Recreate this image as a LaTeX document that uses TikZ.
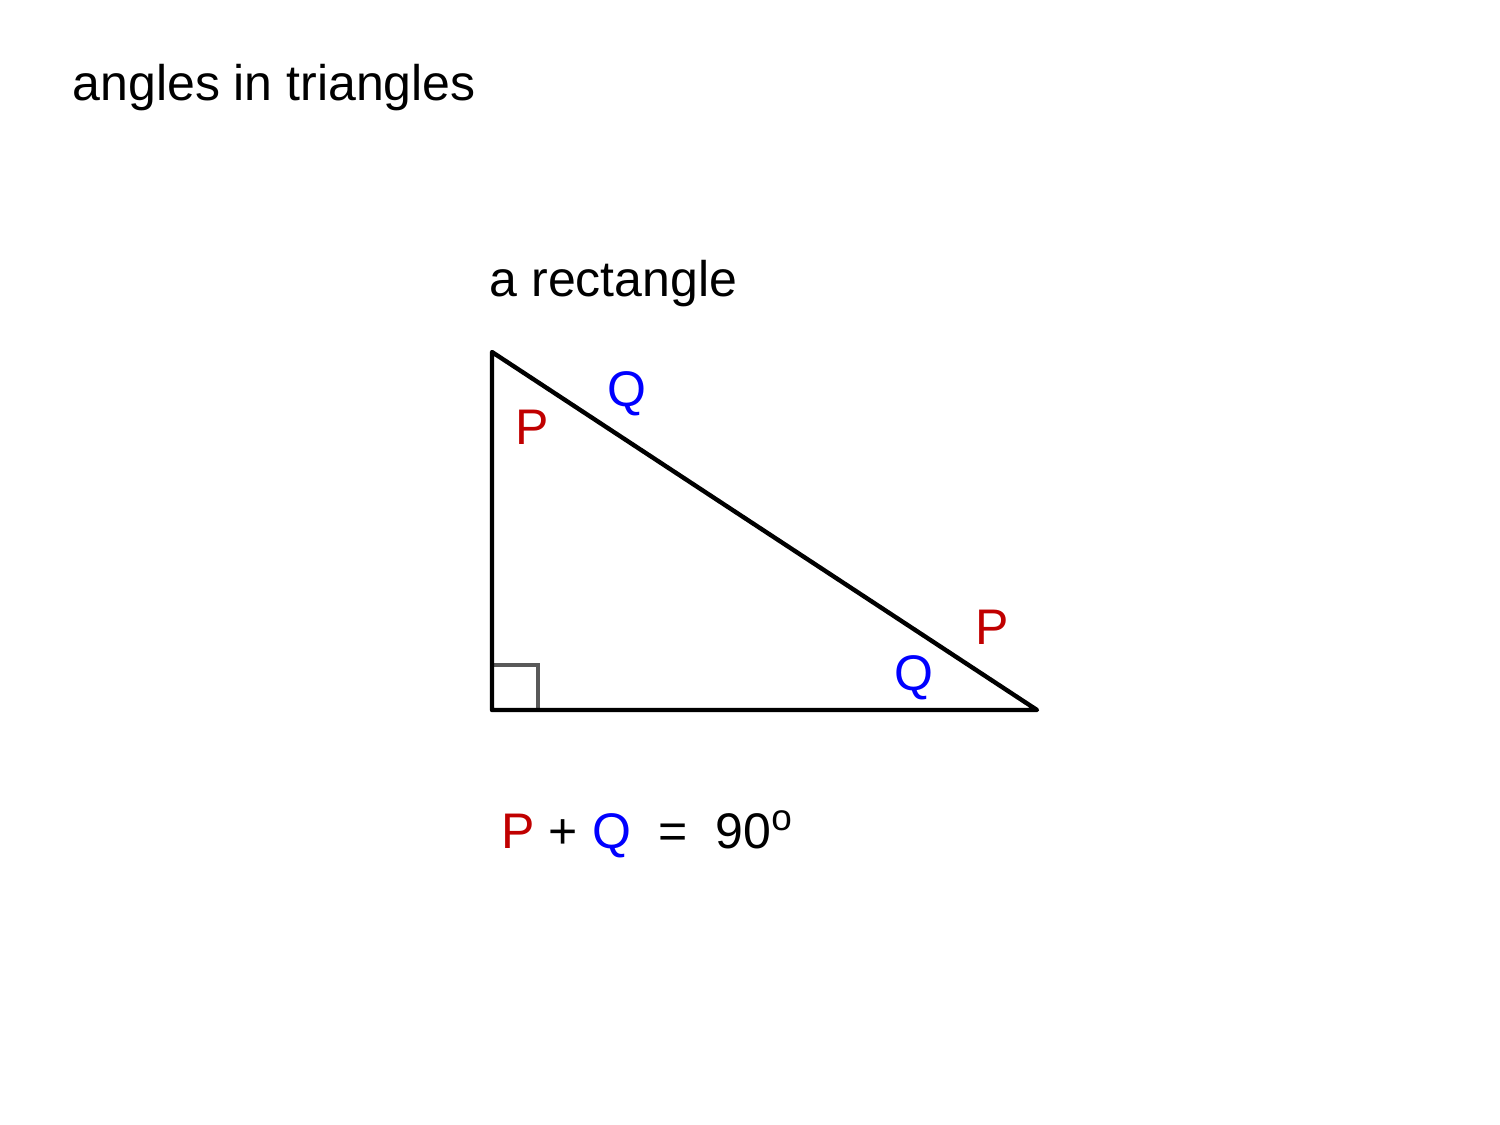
\documentclass[tikz,border=0pt]{standalone}
\usepackage{fontspec}
\setmainfont{Liberation Sans}
\usepackage{xcolor}
\usepackage{tikz}
\usetikzlibrary{positioning}
\definecolor{pred}{HTML}{C00000}
\definecolor{qblue}{HTML}{0000FF}
\definecolor{markgray}{HTML}{595959}
\tikzset{
  Schrift/.style={inner sep=0pt, anchor=base west, font=\fontsize{14.23pt}{17pt}\selectfont}, % für alle Texte
  PText/.style={Schrift, text=pred}, % für Winkel P
  QText/.style={Schrift, text=qblue}, % für Winkel Q
  Seite/.style={line width=1.25pt, line join=round, line cap=round}, % für Dreiecksseiten
  Winkelmarke/.style={line width=1.25pt, draw=markgray} % für rechten Winkel
}
\newcommand{\gradzeichen}{\raisebox{5pt}{\fontsize{10.5pt}{10pt}\selectfont o}}
\begin{document}
\begin{tikzpicture}[x=1cm, y=1cm]
\useasboundingbox (0,0) rectangle (15,-11.25);

%Ecken
\coordinate (A) at (4.92,-3.52);
\coordinate (B) at (4.92,-7.10);
\coordinate (C) at (10.37,-7.10);
\coordinate (M1) at (4.92,-6.65);
\coordinate (M2) at (5.38,-6.65);
\coordinate (M3) at (5.38,-7.10);

%Überschriften
\node[Schrift] (titel) at (0.72,-1.00) {angles in triangles};
\node[Schrift] (rect) at (4.89,-2.96) {a rectangle};

%rechter Winkel
\draw[Winkelmarke] (M1) -- (M2) -- (M3);

%Dreieck
\draw[Seite] (A) -- (B) -- (C) -- cycle;

%Winkel
\node[PText] (P1) at (5.15,-4.44) {P};
\node[QText] (Q1) at (6.07,-4.06) {Q};
\node[PText] (P2) at (9.75,-6.44) {P};
\node[QText] (Q2) at (8.94,-6.90) {Q};

%Gleichung
\node[Schrift] (gleichung) at (5.01,-8.48)
  {\textcolor{pred}{P} + \textcolor{qblue}{Q}\ \ =\ \ 90\gradzeichen};

\end{tikzpicture}
\end{document}
